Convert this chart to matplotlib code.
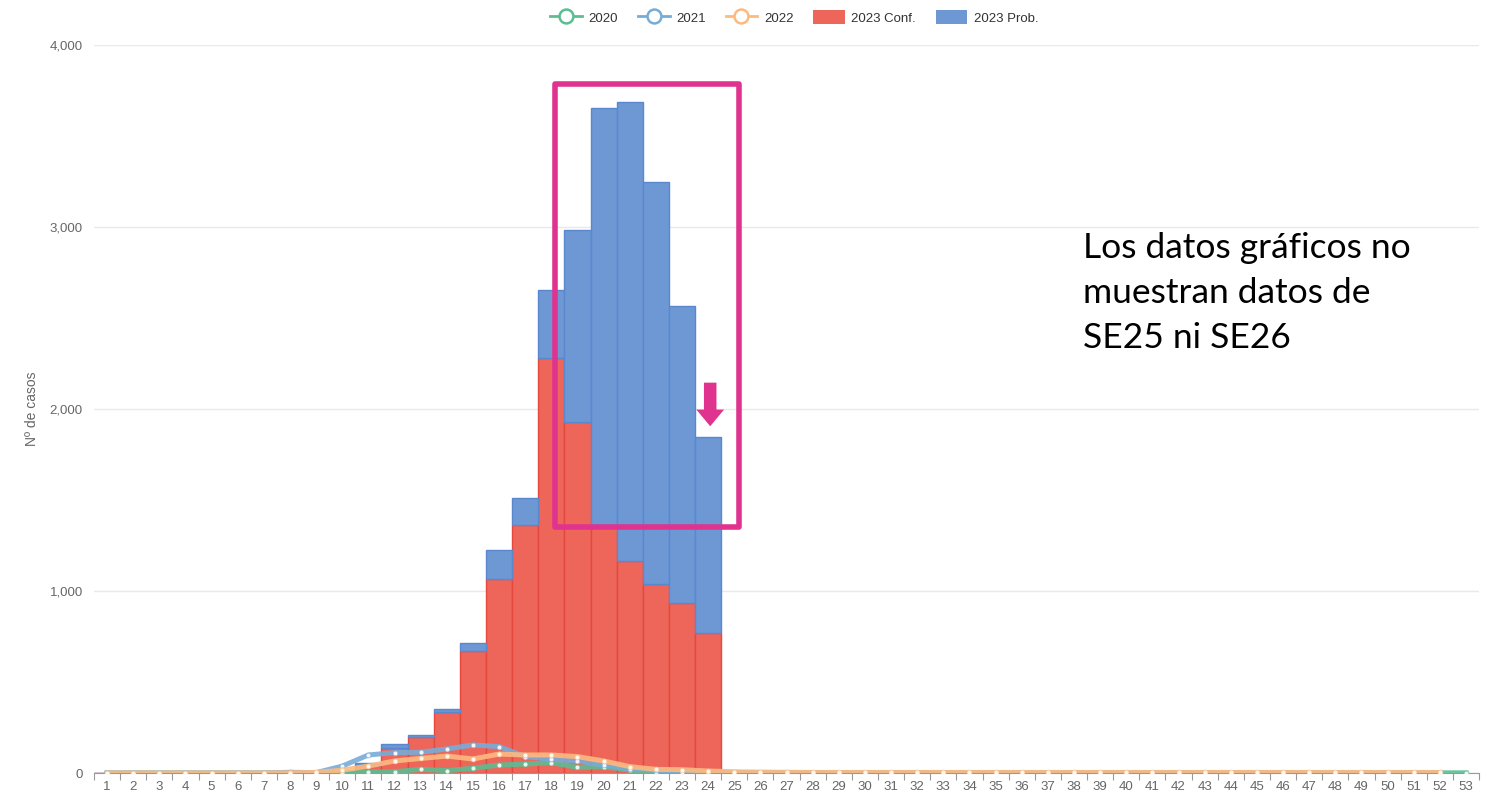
import numpy as np
import matplotlib.pyplot as plt
from matplotlib.lines import Line2D
from matplotlib.patches import Patch, Rectangle
from matplotlib.ticker import FuncFormatter

plt.rcParams['font.family'] = ['Liberation Sans', 'DejaVu Sans']

weeks = list(range(1, 54))

# 2023 confirmed / probable (stacked bars), weeks 1-24
conf_2023 = [0, 0, 0, 0, 0, 0, 0, 0, 0, 5, 45, 137, 198, 335, 670, 1066, 1363, 2280,
             1929, 1355, 1165, 1038, 934, 769]
prob_2023 = [0, 0, 0, 0, 0, 0, 0, 0, 0, 2, 10, 22, 11, 17, 44, 159, 148, 374,
             1055, 2299, 2522, 2209, 1632, 1077]

# previous seasons (lines)
y2020 = [0, 0, 0, 0, 0, 0, 0, 0, 0, 0, 5, 7, 20, 13, 26, 44, 49, 57, 31, 35, 16, 5, 3, 8,
         1, 1, 2, 1, 1, 1, 1, 2, 1, 2, 1, 1, 1, 1, 1, 1, 1, 1, 1, 1, 1, 2, 1, 1, 1, 1, 1, 1, 1]
y2021 = [0, 0, 0, 0, 0, 0, 0, 4, 2, 38, 99, 112, 114, 132, 154, 145, 90, 75, 66, 44, 22, 16, 7, 2,
         1, 1, 1, 1, 1, 1, 1, 1, 1, 1, 1, 1, 1, 1, 1, 1, 1, 1, 1, 1, 1, 1, 1, 1, 1, 1, 1, 1]
y2022 = [0, 0, 0, 0, 0, 0, 0, 1, 3, 16, 38, 66, 80, 93, 77, 104, 99, 99, 90, 66, 35, 20, 18, 11,
         7, 5, 4, 3, 3, 3, 3, 3, 3, 3, 3, 3, 3, 3, 3, 3, 3, 3, 3, 3, 3, 3, 3, 3, 3, 3, 3, 3]

RED = '#ee665a'
BLUE = '#6d98d4'
PINK = '#e0338f'
line_cols = {'2020': '#5cbd92', '2021': '#78acd8', '2022': '#fdba80'}

fig = plt.figure(figsize=(14.99, 8.0), dpi=100)
ax = fig.add_axes([0.0627, 0.03375, 0.924, 0.91])

bar_weeks = weeks[:len(conf_2023)]
ax.bar(bar_weeks, conf_2023, width=1.0, color=RED, edgecolor='#e5483c', linewidth=1.0, zorder=2)
ax.bar(bar_weeks, prob_2023, width=1.0, bottom=conf_2023, color=BLUE, edgecolor='#5a88cf',
       linewidth=1.0, zorder=2)

for name, vals in [('2020', y2020), ('2021', y2021), ('2022', y2022)]:
    ax.plot(weeks[:len(vals)], vals, color=line_cols[name], lw=3.6, alpha=0.9, zorder=3,
            marker='o', ms=3.5, mfc='white', mec=line_cols[name], mew=0.5)

ax.set_xlim(0.5, 53.5)
ax.set_ylim(0, 4000)
ax.set_yticks([0, 1000, 2000, 3000, 4000])
ax.yaxis.set_major_formatter(FuncFormatter(lambda v, p: f'{int(v):,}'))
ax.set_xticks(weeks)
ax.set_xticks(np.arange(0.5, 54, 1), minor=True)
ax.tick_params(axis='x', which='major', length=0, labelsize=9.5, colors='#666666', pad=6)
ax.tick_params(axis='x', which='minor', length=5, color='#999999', width=0.8)
ax.tick_params(axis='y', length=0, labelsize=9.5, colors='#666666', pad=8)
ax.grid(axis='y', color='#e8e8ee', lw=1.0, zorder=0)
ax.set_axisbelow(True)
for s in ['top', 'right', 'left']:
    ax.spines[s].set_visible(False)
ax.spines['bottom'].set_color('#999999')
ax.set_ylabel('Nº de casos', fontsize=10, color='#666666', labelpad=8)

handles = [
    Line2D([], [], color=line_cols['2020'], lw=2, marker='o', ms=10, mfc='white', mew=1.8),
    Line2D([], [], color=line_cols['2021'], lw=2, marker='o', ms=10, mfc='white', mew=1.8),
    Line2D([], [], color=line_cols['2022'], lw=2, marker='o', ms=10, mfc='white', mew=1.8),
    Patch(facecolor=RED),
    Patch(facecolor=BLUE),
]
fig.legend(handles, ['2020', '2021', '2022', '2023 Conf.', '2023 Prob.'], loc='center',
           bbox_to_anchor=(0.53, 0.978), ncol=5, frameon=False, fontsize=9.5,
           handlelength=2.4, handleheight=1.2, columnspacing=1.5, handletextpad=0.5,
           labelcolor='#333333')

# highlight box and arrow
ax.add_patch(Rectangle((18.15, 1352), 7.04, 2434, fill=False, edgecolor=PINK, lw=4,
                       zorder=5, joinstyle='round'))
ax.annotate('', xy=(24.08, 1890), xytext=(24.08, 2160),
            arrowprops=dict(arrowstyle='simple,head_width=2.0,head_length=1.2,tail_width=0.9',
                            color=PINK, lw=0), zorder=6)

ax.text(0.7225, 0.71, 'Los datos gráficos no\nmuestran datos de\nSE25 ni SE26',
        transform=fig.transFigure, fontsize=25.5, family=['Lato', 'DejaVu Sans'],
        va='top', ha='left', linespacing=1.5, color='black')

fig.savefig('out.png', dpi=100)
